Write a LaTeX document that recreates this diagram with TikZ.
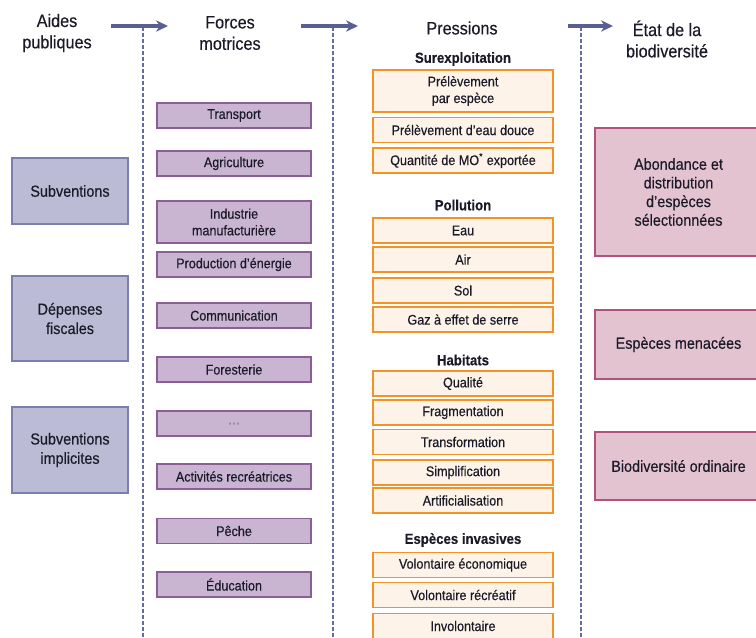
\documentclass[tikz,border=0pt]{standalone}
\usepackage{fontspec}
\setmainfont{Liberation Sans}[FakeStretch=0.9,FakeBold=0.4]
\usetikzlibrary{arrows.meta}

\definecolor{txtcol}{HTML}{1A1A28}
\definecolor{flowcol}{HTML}{5A5F93}
\definecolor{sepcol}{HTML}{646BA2}
\definecolor{aidefill}{HTML}{BCBBD6}
\definecolor{aidedraw}{HTML}{7A7FAE}
\definecolor{forcefill}{HTML}{C9B5D2}
\definecolor{forcedraw}{HTML}{8B5E96}
\definecolor{pressfill}{HTML}{FDF3E8}
\definecolor{pressdraw}{HTML}{F39325}
\definecolor{etatfill}{HTML}{E4C3D1}
\definecolor{etatdraw}{HTML}{B2527C}

\begin{document}
\begin{tikzpicture}[x=0.75pt,y=0.75pt,yscale=-1,xscale=1,
  head/.style={align=center, font=\fontsize{13.5}{16}\selectfont, text=txtcol, inner sep=0.75pt},
  subhead/.style={font=\bfseries\fontsize{11}{13}\selectfont, text=txtcol, inner sep=0.75pt},
  flow/.style={-{Stealth[length=9pt,width=8.5pt]}, line width=2.6pt, draw=flowcol},
  sepline/.style={draw=sepcol, line width=1.8pt, dash pattern=on 3pt off 1.5pt},
  aidebox/.style={draw=aidedraw, fill=aidefill, line width=1.1pt, minimum width=87pt, align=center, font=\fontsize{12}{14.5}\selectfont, text=txtcol},
  forcebox/.style={draw=forcedraw, fill=forcefill, line width=1.1pt, minimum width=115.5pt, minimum height=18.75pt, align=center, font=\fontsize{10.5}{12.5}\selectfont, text=txtcol},
  pressbox/.style={draw=pressdraw, fill=pressfill, line width=1.1pt, minimum width=135pt, minimum height=18.75pt, align=center, font=\fontsize{10.5}{12.5}\selectfont, text=txtcol},
  etatbox/.style={draw=etatdraw, fill=etatfill, line width=1.1pt, minimum width=125.25pt, align=center, font=\fontsize{12}{14}\selectfont, text=txtcol}
]
\path[use as bounding box] (0,0) rectangle (756,637);
\clip (0,0) rectangle (756,637);

% Column headings
\node[head] (aides) at (57,33) {Aides\\publiques};
\node[head] (forces) at (230,33) {Forces\\motrices};
\node[head] (pressions) at (462,28) {Pressions};
\node[head] (etat) at (667,39) {État de la\\biodiversité};

% Arrows between headings and dashed separators
\coordinate (a1s) at (111,26);
\coordinate (a1e) at (168,26);
\coordinate (a2s) at (301,26);
\coordinate (a2e) at (358,26);
\coordinate (a3s) at (568,26);
\coordinate (a3e) at (613,26);
\coordinate (s1t) at (143,27);
\coordinate (s1b) at (143,640);
\coordinate (s2t) at (333,27);
\coordinate (s2b) at (333,640);
\coordinate (s3t) at (581,27);
\coordinate (s3b) at (581,640);
\draw[sepline] (s1t) -- (s1b);
\draw[sepline] (s2t) -- (s2b);
\draw[sepline] (s3t) -- (s3b);
\draw[flow] (a1s) -- (a1e);
\draw[flow] (a2s) -- (a2e);
\draw[flow] (a3s) -- (a3e);

% Aides publiques
\node[aidebox, minimum height=49.5pt] (subv) at (70,191) {Subventions};
\node[aidebox, minimum height=63.75pt] (depfisc) at (70,318.5) {Dépenses\\fiscales};
\node[aidebox, minimum height=64.5pt] (subvimpl) at (70,450) {Subventions\\implicites};

% Forces motrices
\node[forcebox] (transport) at (234,115.5) {Transport};
\node[forcebox] (agri) at (234,163.5) {Agriculture};
\node[forcebox, minimum height=31.5pt] (industrie) at (234,222) {Industrie\\manufacturière};
\node[forcebox] (energie) at (234,264.5) {Production d’énergie};
\node[forcebox] (comm) at (234,315.5) {Communication};
\node[forcebox] (foret) at (234,369.5) {Foresterie};
\node[forcebox] (autres) at (234,423.5) {\textcolor{gray}{\dots}};
\node[forcebox] (loisirs) at (234,476.5) {Activités recréatrices};
\node[forcebox] (peche) at (234,531) {Pêche};
\node[forcebox] (educ) at (234,584.5) {Éducation};

% Pressions
\node[subhead] (surexpl) at (463,59) {Surexploitation};
\node[pressbox, minimum height=31.5pt] (prelesp) at (463,91) {Prélèvement\\par espèce};
\node[pressbox] (preleau) at (463,130) {Prélèvement d’eau douce};
\node[pressbox] (mo) at (463,160.5) {Quantité de MO\textsuperscript{*} exportée};
\node[subhead] (pollution) at (463,205) {Pollution};
\node[pressbox] (eau) at (463,230.5) {Eau};
\node[pressbox] (air) at (463,259.5) {Air};
\node[pressbox] (sol) at (463,290.5) {Sol};
\node[pressbox] (ges) at (463,319.5) {Gaz à effet de serre};
\node[subhead] (habitats) at (463,360) {Habitats};
\node[pressbox] (qualite) at (463,383.5) {Qualité};
\node[pressbox] (fragm) at (463,412.5) {Fragmentation};
\node[pressbox] (transf) at (463,442) {Transformation};
\node[pressbox] (simpl) at (463,472.5) {Simplification};
\node[pressbox] (artif) at (463,500.5) {Artificialisation};
\node[subhead] (invasives) at (463,540) {Espèces invasives};
\node[pressbox] (voleco) at (463,565) {Volontaire économique};
\node[pressbox] (volrec) at (463,595) {Volontaire récréatif};
\node[pressbox] (involont) at (463,626) {Involontaire};

% Etat de la biodiversite
\node[etatbox, minimum height=96pt] (abond) at (678.5,192) {Abondance et\\distribution\\d’espèces\\sélectionnées};
\node[etatbox, minimum height=51.75pt] (menacees) at (678.5,344.5) {Espèces menacées};
\node[etatbox, minimum height=51pt] (ordinaire) at (678.5,466) {Biodiversité ordinaire};
\end{tikzpicture}
\end{document}
